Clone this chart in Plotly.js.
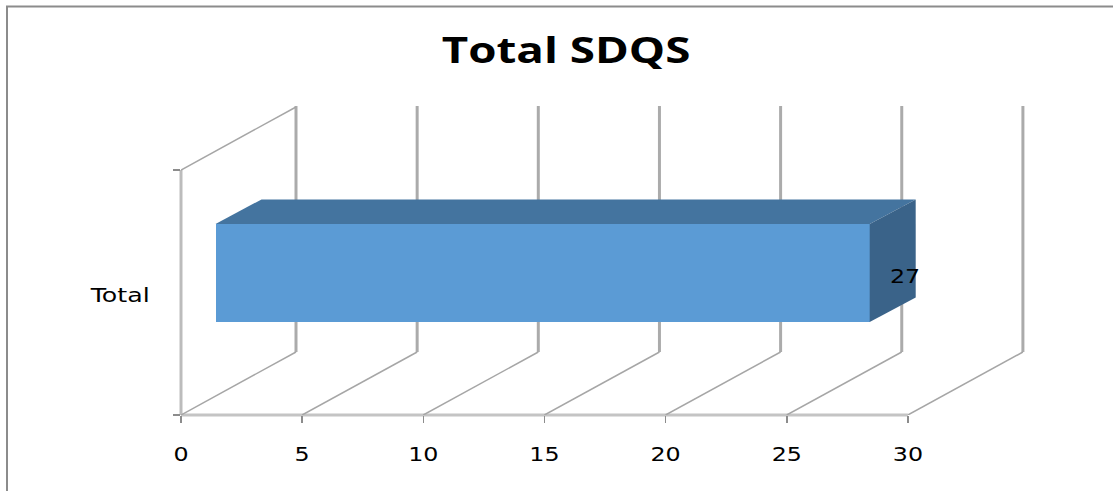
<!DOCTYPE html>
<html>
<head>
<meta charset="utf-8">
<script src="https://cdn.plot.ly/plotly-3.0.1.min.js"></script>
<style>
html,body{margin:0;padding:0;background:#fff;overflow:hidden}
#chart{width:1113px;height:491px}
</style>
</head>
<body>
<div id="chart"></div>
<script>
const titleText = "Total SDQS";
const categories = ["Total"];
const seriesValues = [27];
const xTicks = [0, 5, 10, 15, 20, 25, 30];
const yTicks = [0, 1];

const W = 1113, H = 491;
const left = 181, bottom = 415;
const pxPerX = 24.23, pxPerY = 245;
const xMax = (W - left) / pxPerX, yMax = bottom / pxPerY;

// depth projection, in axis units
const wallDx = 115 / pxPerX, wallDy = 63 / pxPerY;
const barBase = 34.5 / pxPerX, barLow = 0.38, barHigh = 0.78;
const barDx = 46 / pxPerX, barDy = 24.5 / pxPerY;

const px = v => (v - left) / (W - left);
const py = v => (bottom - v) / bottom;
const xLast = xTicks[xTicks.length - 1];

const shapes = [];
const line = (x0, y0, x1, y1, color, width) => shapes.push({
  type: 'line', layer: 'below', xref: 'x', yref: 'y', x0, y0, x1, y1,
  line: {color, width}
});
// paper-referenced so the edge lines on the axes are not cut in half by the plot clip
const edge = (x0, y0, x1, y1, color, width) => shapes.push({
  type: 'line', layer: 'below', xref: 'paper', yref: 'paper',
  x0: x0 / xMax, y0: y0 / yMax, x1: x1 / xMax, y1: y1 / yMax,
  line: {color, width}
});
// outer frame
shapes.push({type:'rect', layer:'below', xref:'paper', yref:'paper',
  x0:px(7), x1:px(W+20), y0:py(H+20), y1:py(6.5),
  line:{color:'#8c8c8c', width:2}, fillcolor:'rgba(0,0,0,0)'});
// back wall gridlines and floor diagonals
xTicks.forEach(t => {
  line(t + wallDx, wallDy, t + wallDx, yTicks[1] + wallDy + 0.004, '#ababab', 3);
  line(t, 0, t + wallDx, wallDy, '#a6a6a6', 1.5);
});
// side wall top edge, side wall front edge, floor front edge
line(0, 1, wallDx, 1 + wallDy, '#a6a6a6', 1.5);
edge(0, yTicks[0], 0, yTicks[1], '#bcbcbc', 3);
edge(0, 0, xLast, 0, '#c4c4c4', 3);

const v = seriesValues[0];
const xEnd = barBase + v;

const traces = [
  {type:'bar', orientation:'h', y:[(barLow + barHigh) / 2], x:[v], base:[barBase],
   width:[barHigh - barLow], marker:{color:'#5b9bd5', line:{width:0}},
   hoverinfo:'skip', name:categories[0]},
  {type:'scatter', mode:'lines', fill:'toself', fillcolor:'#44749f', line:{width:0},
   x:[barBase, xEnd, xEnd + barDx, barBase + barDx, barBase],
   y:[barHigh, barHigh, barHigh + barDy, barHigh + barDy, barHigh], hoverinfo:'skip'},
  {type:'scatter', mode:'lines', fill:'toself', fillcolor:'#3a6389', line:{width:0},
   x:[xEnd, xEnd + barDx, xEnd + barDx, xEnd, xEnd],
   y:[barLow, barLow + barDy, barHigh + barDy, barHigh, barLow], hoverinfo:'skip'}
];

const labelFont = {family:'"DejaVu Sans", sans-serif', size:19, color:'#000'};

const layout = {
  width: W, height: H,
  margin: {l:left, r:0, t:0, b:H - bottom, pad:0},
  paper_bgcolor:'#ffffff', plot_bgcolor:'rgba(0,0,0,0)',
  showlegend:false,
  bargap:0,
  title:{text:titleText, x:566/W, xanchor:'center', y:1-50/H, yanchor:'middle',
         font:{family:'"Open Sans", sans-serif', size:36, color:'#000', weight:700}},
  xaxis:{range:[0, xMax], tickmode:'array', tickvals:xTicks, ticktext:xTicks.map(String),
         ticks:'outside', ticklen:7, tickwidth:1.5, tickcolor:'#8c8c8c',
         showgrid:false, zeroline:false, showline:false, ticklabelstandoff:15,
         tickfont:labelFont},
  yaxis:{range:[0, yMax], tickmode:'array', tickvals:yTicks, ticktext:['',''],
         ticks:'outside', ticklen:7, tickwidth:1.5, tickcolor:'#8c8c8c',
         showgrid:false, zeroline:false, showline:false},
  shapes,
  annotations:[
    {xref:'x', yref:'y', x:0, y:(bottom-295)/pxPerY, xanchor:'right', yanchor:'middle', xshift:-37.5,
     text:categories[0], showarrow:false, font:labelFont},
    {xref:'x', yref:'y', x:xEnd + barDx/2, y:(barLow+barHigh)/2 + barDy/2, xanchor:'center', yanchor:'middle', xshift:12.5, yshift:-15,
     text:String(v), showarrow:false, font:labelFont}
  ]
};

// the reference's text is horizontally stretched: widen the glyphs without changing their height
function stretch(nodes, k) {
  nodes.forEach(t => {
    const len = t.getComputedTextLength();
    if (len > 0) {
      t.setAttribute('textLength', len * k);
      t.setAttribute('lengthAdjust', 'spacingAndGlyphs');
    }
  });
}

Plotly.newPlot('chart', traces, layout, {displayModeBar:false, staticPlot:true}).then(() => {
  stretch(document.querySelectorAll('.gtitle'), 1.27);
  stretch(document.querySelectorAll('.xtick text'), 1.25);
  const notes = document.querySelectorAll('.annotation-text');
  stretch([notes[0]], 1.33);
  stretch([notes[1]], 1.25);
});
</script>
</body>
</html>
